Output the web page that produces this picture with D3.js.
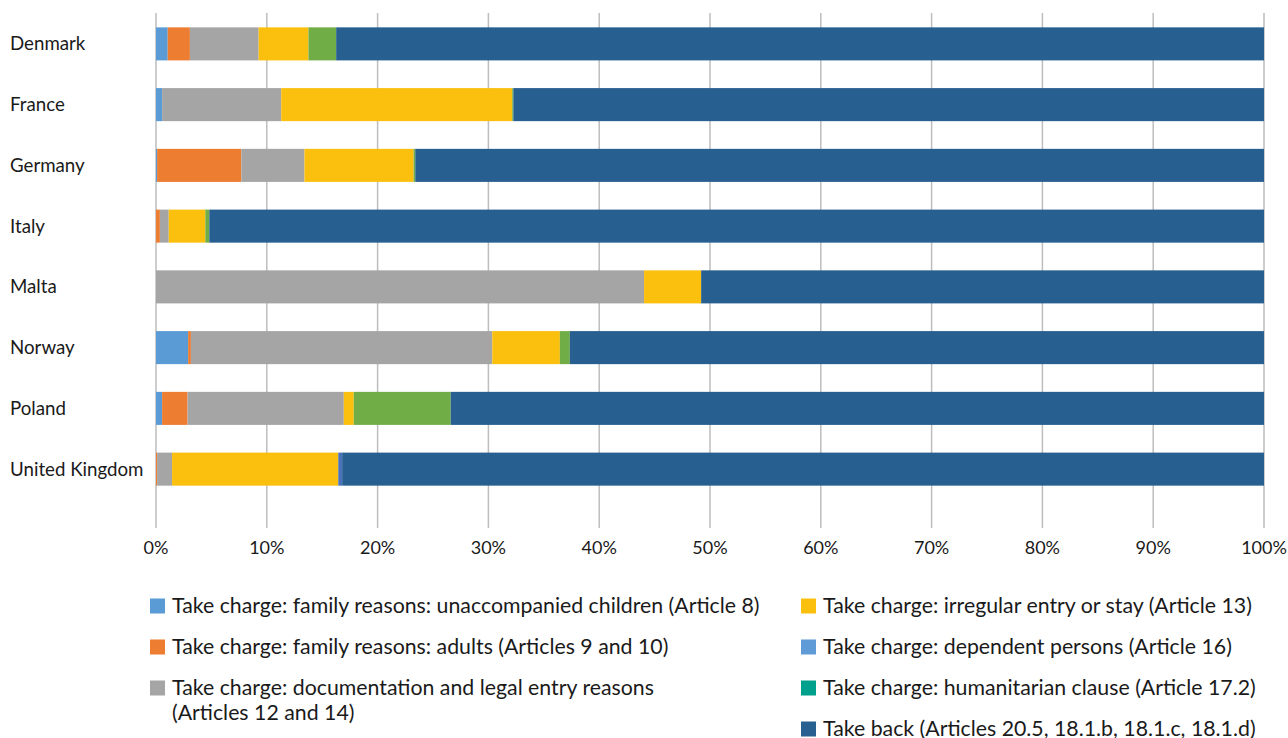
<!DOCTYPE html>
<html>
<head>
<meta charset="utf-8">
<script src="https://cdn.jsdelivr.net/npm/d3@7"></script>
<style>
  body { margin: 0; background: #fff; }
  svg text { font-family: Lato, "Open Sans", sans-serif; fill: #1a1a1a; }
</style>
</head>
<body>
<svg width="1288" height="738"></svg>
<script>
var countries = ["Denmark", "France", "Germany", "Italy", "Malta", "Norway", "Poland", "United Kingdom"];

// percent shares per country, same order as countries
var children      = [1.06, 0.55, 0.1, 0, 0, 2.9, 0.55, 0];
var adults        = [2.0, 0, 7.6, 0.35, 0, 0.25, 2.3, 0.1];
var documentation = [6.2, 10.75, 5.7, 0.8, 44.05, 27.2, 14.1, 1.35];
var irregular     = [4.5, 20.85, 9.85, 3.3, 5.15, 6.1, 0.9, 15.0];
var dependent     = [0, 0, 0, 0, 0, 0, 0, 0.35];
var unlabelled    = [2.5, 0.1, 0.15, 0.36, 0, 0.9, 8.75, 0];   // green series, legend entry not visible
var humanitarian  = [0, 0, 0, 0, 0, 0, 0, 0];
var takeBack      = [83.74, 67.75, 76.6, 95.19, 50.8, 62.65, 73.4, 83.2];

var xTicks = [0, 10, 20, 30, 40, 50, 60, 70, 80, 90, 100];

var series = [
  {key: "children", values: children, color: "#5b9bd5"},
  {key: "adults", values: adults, color: "#ed7d31"},
  {key: "documentation", values: documentation, color: "#a5a5a5"},
  {key: "irregular", values: irregular, color: "#fbbf0e"},
  {key: "dependent", values: dependent, color: "#4a72b8"},
  {key: "unlabelled", values: unlabelled, color: "#71ad47"},
  {key: "humanitarian", values: humanitarian, color: "#00a08c"},
  {key: "takeBack", values: takeBack, color: "#285f91"}
];

var legendLeft = [
  {label: ["Take charge: family reasons: unaccompanied children (Article 8)"], color: "#5b9bd5"},
  {label: ["Take charge: family reasons: adults (Articles 9 and 10)"], color: "#ed7d31"},
  {label: ["Take charge: documentation and legal entry reasons", "(Articles 12 and 14)"], color: "#a5a5a5"}
];
var legendRight = [
  {label: ["Take charge: irregular entry or stay (Article 13)"], color: "#fbbf0e"},
  {label: ["Take charge: dependent persons (Article 16)"], color: "#5f9bd6"},
  {label: ["Take charge: humanitarian clause (Article 17.2)"], color: "#00a08c"},
  {label: ["Take back (Articles 20.5, 18.1.b, 18.1.c, 18.1.d)"], color: "#285f91"}
];

var svg = d3.select("svg");

var rows = countries.map(function(c, i) {
  var r = {country: c};
  series.forEach(function(s) { r[s.key] = s.values[i]; });
  return r;
});

var stack = d3.stack().keys(series.map(function(s) { return s.key; }));
var stacked = stack(rows);

var x = d3.scaleLinear().domain([0, 100]).range([156, 1264]);
var y = d3.scaleBand().domain(countries).range([13.5, 499.5]).paddingInner(0.456).paddingOuter(0.228);

// gridlines
svg.append("g")
  .selectAll("line")
  .data(xTicks)
  .enter().append("line")
  .attr("x1", function(d) { return x(d); })
  .attr("x2", function(d) { return x(d); })
  .attr("y1", 13)
  .attr("y2", 528)
  .attr("stroke", "#bdbdbd")
  .attr("stroke-width", 1.5);

// bars
svg.append("g")
  .selectAll("g")
  .data(stacked)
  .enter().append("g")
  .attr("fill", function(d, i) { return series[i].color; })
  .selectAll("rect")
  .data(function(d) { return d; })
  .enter().append("rect")
  .attr("x", function(d) { return x(d[0]); })
  .attr("y", function(d) { return y(d.data.country); })
  .attr("width", function(d) { return Math.max(0, x(d[1]) - x(d[0])); })
  .attr("height", y.bandwidth());

// country labels
svg.append("g")
  .selectAll("text")
  .data(countries)
  .enter().append("text")
  .attr("x", 10)
  .attr("y", function(d) { return y(d) + y.bandwidth() / 2; })
  .attr("dy", "0.35em")
  .attr("font-size", 18.7)
  .text(function(d) { return d; });

// x tick labels
svg.append("g")
  .selectAll("text")
  .data(xTicks)
  .enter().append("text")
  .attr("x", function(d) { return x(d); })
  .attr("y", 548)
  .attr("dy", "0.35em")
  .attr("text-anchor", "middle")
  .attr("font-size", 18)
  .text(function(d) { return d + "%"; });

function drawLegend(items, x0, rowYs) {
  var g = svg.append("g");
  items.forEach(function(it, i) {
    var cy = rowYs[i];
    g.append("rect")
      .attr("x", x0)
      .attr("y", cy - 7.5)
      .attr("width", 15)
      .attr("height", 15)
      .attr("fill", it.color);
    it.label.forEach(function(line, j) {
      g.append("text")
        .attr("x", x0 + 22)
        .attr("y", cy + j * 25)
        .attr("dy", "0.35em")
        .attr("font-size", 21.3)
        .text(line);
    });
  });
}

drawLegend(legendLeft, 150, [606, 647, 688]);
drawLegend(legendRight, 801, [606, 647, 688, 729]);
</script>
</body>
</html>
